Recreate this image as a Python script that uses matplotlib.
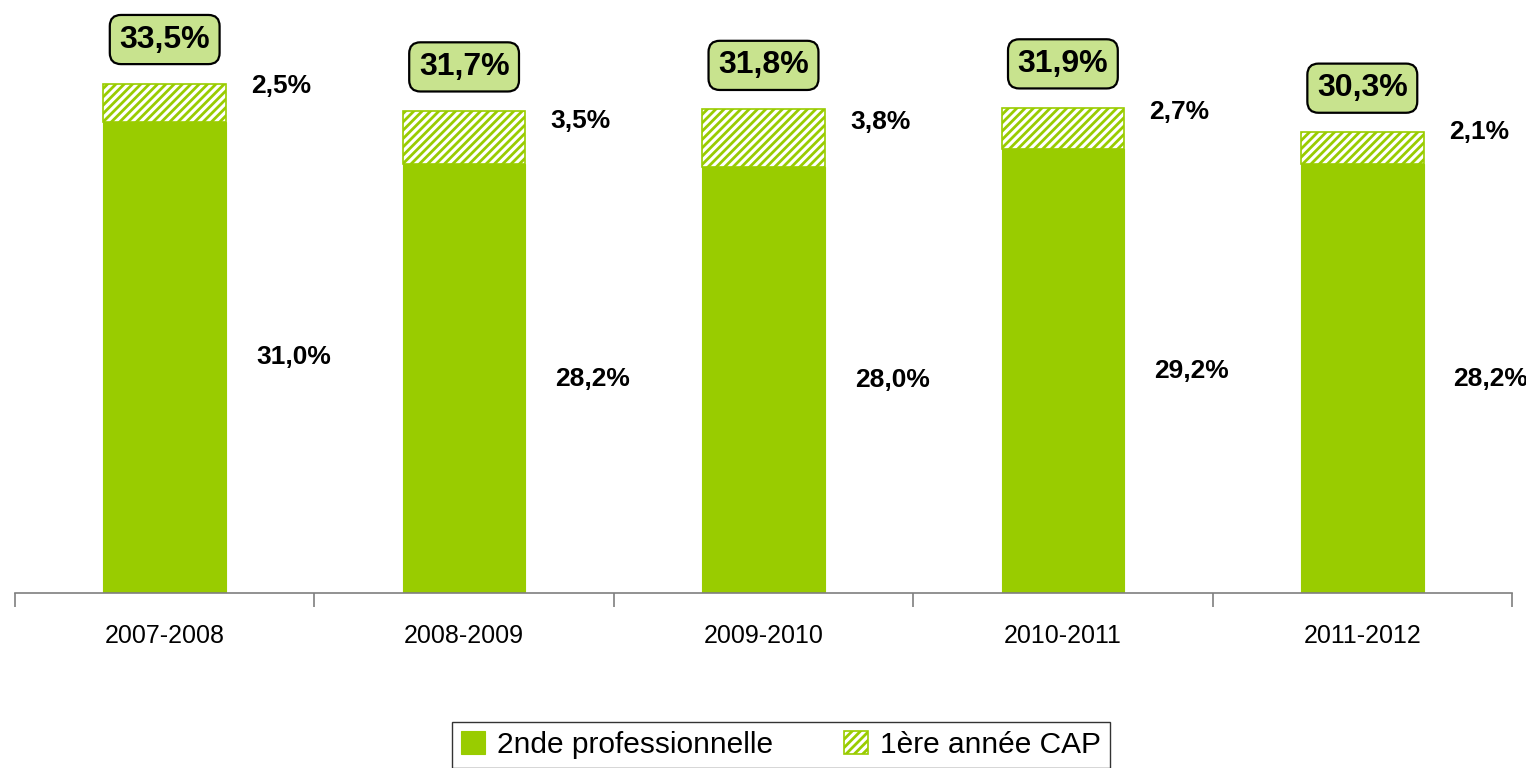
import numpy as np
import matplotlib
matplotlib.use("Agg")
import matplotlib.pyplot as plt

plt.rcParams['font.family'] = ['Liberation Sans', 'DejaVu Sans']
plt.rcParams['hatch.linewidth'] = 2.0

# donnees
annees = ['2007-2008', '2008-2009', '2009-2010', '2010-2011', '2011-2012']
seconde_pro = [31.0, 28.2, 28.0, 29.2, 28.2]
cap_1ere = [2.5, 3.5, 3.8, 2.7, 2.1]
totaux = [33.5, 31.7, 31.8, 31.9, 30.3]

vert = '#99CC00'
x = np.arange(len(annees))
largeur = 0.41

fig = plt.figure(figsize=(15.26, 7.68), dpi=100)
ax = fig.add_axes([15/1526, 1 - 593/768, 1497/1526, 593/768])

ax.bar(x, seconde_pro, largeur, color=vert, edgecolor=vert, linewidth=0.8,
       label='2nde professionnelle')
ax.bar(x, cap_1ere, largeur, bottom=seconde_pro, color='white', edgecolor=vert,
       hatch='////', linewidth=1.2, label='1ère année CAP')

def fmt(v):
    return f"{v:.1f}%".replace('.', ',')

# etiquettes a droite des barres
for i in range(len(annees)):
    ax.text(x[i] + 0.43, seconde_pro[i] / 2, fmt(seconde_pro[i]),
            ha='center', va='center', fontsize=19, fontweight='bold')
    ax.text(x[i] + 0.39, seconde_pro[i] + cap_1ere[i] / 2 + 1.1, fmt(cap_1ere[i]),
            ha='center', va='center', fontsize=19, fontweight='bold')
    ax.text(x[i], totaux[i] + 2.9, fmt(totaux[i]), ha='center', va='center',
            fontsize=23, fontweight='bold',
            bbox=dict(boxstyle='round,pad=0.3,rounding_size=0.35',
                      facecolor='#C8E38E', edgecolor='black', linewidth=1.6))

ax.set_xlim(-0.5, len(annees) - 0.5)
ax.set_ylim(0, 39)
ax.set_yticks([])
for s in ['left', 'right', 'top']:
    ax.spines[s].set_visible(False)
ax.spines['bottom'].set_color('#7f7f7f')
ax.spines['bottom'].set_linewidth(1.2)

ax.set_xticks(x)
ax.set_xticklabels(annees, fontsize=18)
ax.tick_params(axis='x', which='major', length=0, pad=22)
ax.set_xticks(np.arange(-0.5, len(annees)), minor=True)
ax.tick_params(axis='x', which='minor', length=10, width=1.2, color='#7f7f7f',
               direction='out')

fig.legend(loc='upper center', bbox_to_anchor=(781/1526, 1 - 722/768), ncol=2,
           fontsize=21.5, frameon=True, fancybox=False, edgecolor='black',
           handlelength=0.8, handleheight=0.8, handletextpad=0.4,
           columnspacing=2.4, borderpad=0.3, borderaxespad=0)

fig.savefig('out.png', dpi=100, facecolor='white')
